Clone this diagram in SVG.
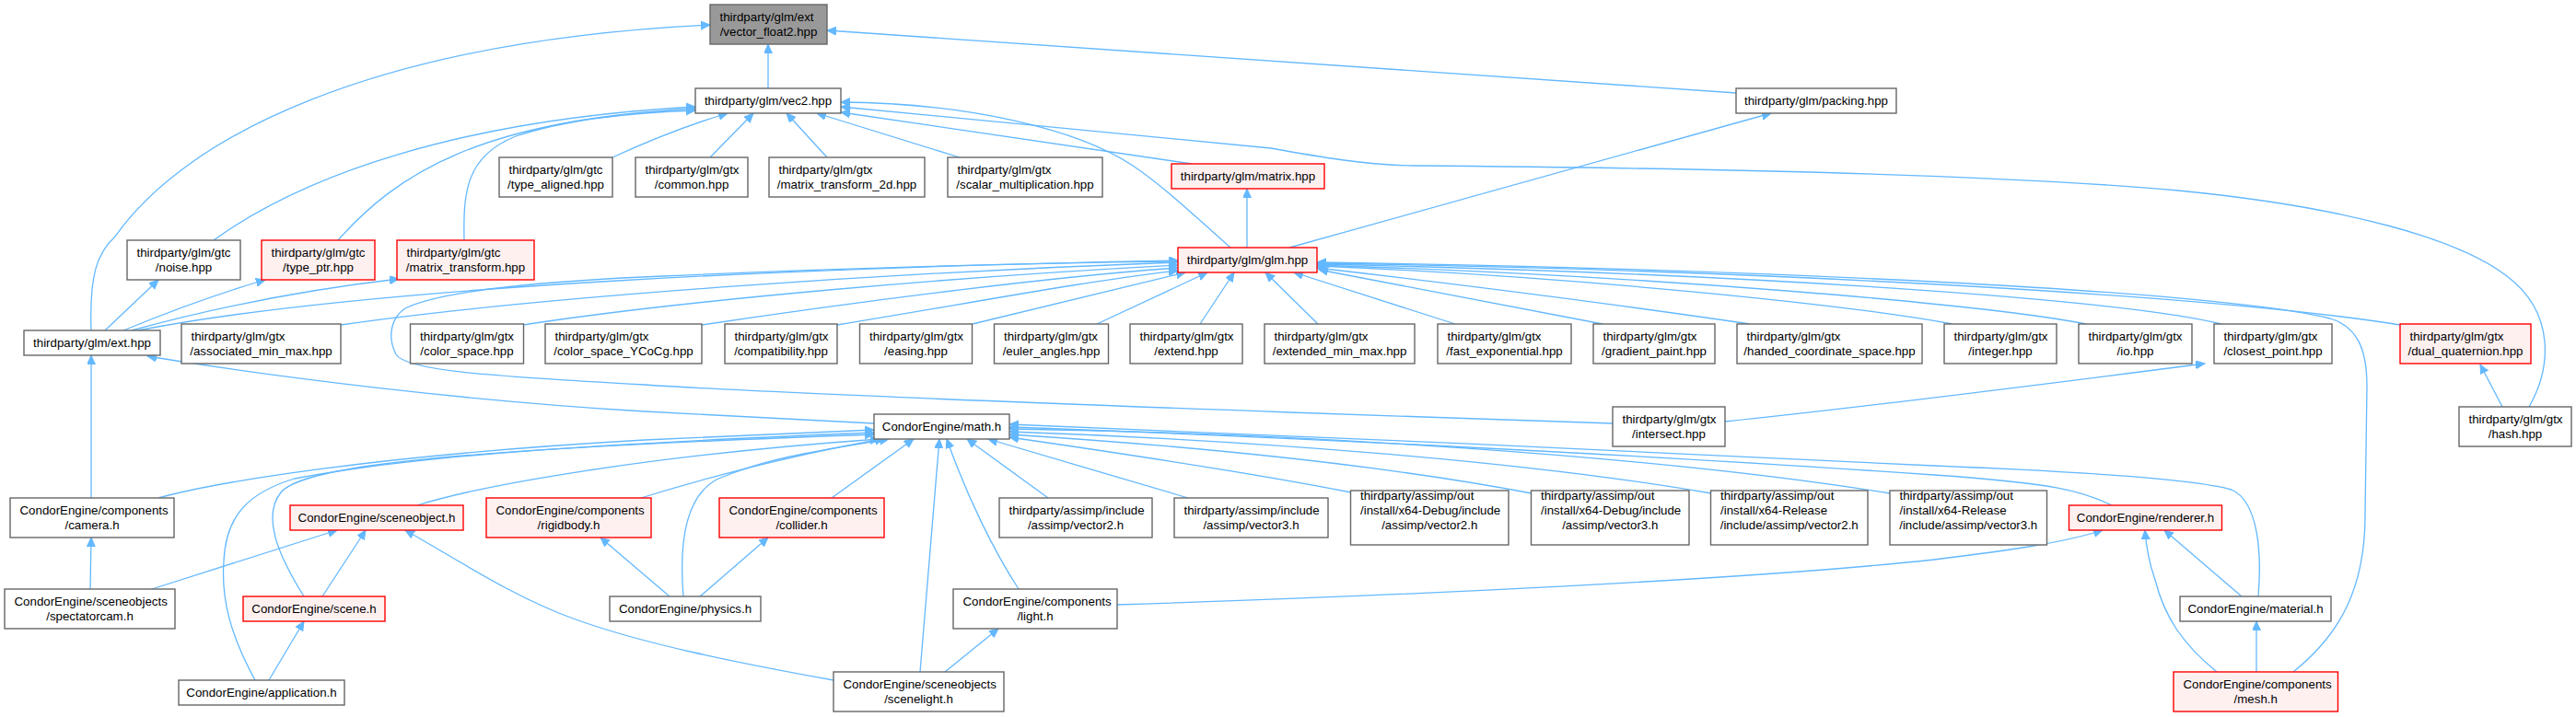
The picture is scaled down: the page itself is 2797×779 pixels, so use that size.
<svg xmlns="http://www.w3.org/2000/svg" width="2797" height="779" viewBox="0 0 2797 779">
<style>
.n rect{fill:#fff;stroke:#666;stroke-width:1.4}
.r rect{fill:#fff0f0;stroke:#f00;stroke-width:1.4}
.root rect{fill:#999;stroke:#666;stroke-width:1.4}
text{font-family:"Liberation Sans",Arial,sans-serif;font-size:13.3px;fill:#000}
.c{text-anchor:middle}
#edges path{fill:none;stroke:#63b8ff;stroke-width:1.3;marker-end:url(#a)}
</style>
<defs>
<marker id="a" markerUnits="userSpaceOnUse" markerWidth="12" markerHeight="10" refX="10" refY="4.5" orient="auto"><path d="M0,0 L10,4.5 L0,9 z" fill="#63b8ff" stroke="#63b8ff" stroke-width="1"/></marker>
</defs>
<rect width="2797" height="779" fill="#fff"/>
<g id="edges">
<path d="M834,96 L834,48"/>
<path d="M99,359 C97,300 105,275 125,257 C200,150 400,45 771,27"/>
<path d="M1885,101 L898,33"/>
<path d="M232,261 C330,190 500,130 755,116"/>
<path d="M367,261 C430,190 520,130 755,118"/>
<path d="M504,261 C503,210 505,170 560,148 C620,128 690,122 755,120"/>
<path d="M665,171 C700,155 750,135 790,123"/>
<path d="M771,171 L818,123"/>
<path d="M898,171 L854,123"/>
<path d="M1042,171 L887,123"/>
<path d="M1294,178 L913,122"/>
<path d="M1336,269 C1290,228 1260,200 1230,180 C1170,140 1050,112 913,111"/>
<path d="M2746,442 C2770,400 2775,340 2722,300 C2670,260 2550,225 2365,207 C2200,192 1900,183 1534,180 C1480,179 1430,170 1380,161 L913,116"/>
<path d="M1354,269 L1354,205"/>
<path d="M1400,269 L1923,123"/>
<path d="M114,359 L172,304"/>
<path d="M134,359 C180,340 240,318 288,304"/>
<path d="M143,359 C230,335 330,315 433,303"/>
<path d="M150,359 C400,310 900,290 1279,283"/>
<path d="M370,353 C600,320 1000,295 1279,285"/>
<path d="M568,353 C750,325 1050,300 1279,288"/>
<path d="M762,353 C950,325 1150,300 1279,291"/>
<path d="M909,353 C1050,330 1180,305 1279,294"/>
<path d="M1751,460 L1400,448 C1100,437 800,425 700,418 C520,408 440,402 430,385 C420,365 425,345 440,335 C480,315 600,305 720,300 C900,292 1100,286 1279,284"/>
<path d="M1056,352 L1287,296"/>
<path d="M1191,352 L1311,296"/>
<path d="M1303,352 L1340,296"/>
<path d="M1431,352 L1374,296"/>
<path d="M1580,352 L1405,296"/>
<path d="M1740,352 L1432,293"/>
<path d="M1900,352 C1750,330 1550,305 1430,291"/>
<path d="M2120,352 C2000,330 1700,300 1430,289"/>
<path d="M2265,352 C2150,330 1800,300 1430,288"/>
<path d="M2412,352 C2300,325 1900,297 1430,287"/>
<path d="M2606,353 C2400,320 1900,293 1430,286"/>
<path d="M2490,730 C2540,690 2568,640 2568,560 L2570,420 C2570,380 2560,355 2530,346 C2400,315 1900,292 1430,285"/>
<path d="M949,460 L700,447 C500,435 300,410 160,387"/>
<path d="M99,541 L99,386"/>
<path d="M172,541 C230,525 400,495 700,478 L949,467"/>
<path d="M277,739 C250,690 240,650 243,610 C245,560 270,535 320,520 C450,495 650,482 949,470"/>
<path d="M330,648 C300,600 285,560 305,535 C330,505 500,488 949,472"/>
<path d="M453,549 C520,528 700,495 955,477"/>
<path d="M696,541 C780,515 880,490 960,477"/>
<path d="M742,648 C738,600 740,540 780,520 C840,495 900,488 965,477"/>
<path d="M903,541 L992,477"/>
<path d="M999,730 L1020,477"/>
<path d="M1106,640 C1080,600 1050,540 1028,477"/>
<path d="M1138,541 L1050,477"/>
<path d="M1290,541 L1073,477"/>
<path d="M1467,535 C1350,512 1200,490 1096,475"/>
<path d="M1663,536 C1500,505 1300,485 1096,472"/>
<path d="M1858,536 C1650,500 1350,478 1096,469"/>
<path d="M2052,536 C1800,495 1400,470 1096,466"/>
<path d="M2293,549 C2260,533 2230,525 2100,516 C1800,495 1400,475 1096,464"/>
<path d="M2452,648 C2456,600 2452,545 2423,532 C2380,520 2250,512 2100,506 C1800,492 1400,472 1096,461"/>
<path d="M1213,657 C1500,648 1900,630 2100,608 C2180,598 2240,590 2283,576"/>
<path d="M2434,648 L2350,576"/>
<path d="M2407,730 C2370,700 2350,670 2340,630 C2333,610 2330,590 2329,576"/>
<path d="M2450,730 L2450,675"/>
<path d="M98,640 L99,584"/>
<path d="M165,640 L366,576"/>
<path d="M350,648 L397,576"/>
<path d="M292,739 L330,675"/>
<path d="M905,739 C800,720 700,700 625,673 C560,650 500,610 440,576"/>
<path d="M727,648 L652,584"/>
<path d="M760,648 L834,584"/>
<path d="M1026,730 L1084,683"/>
<path d="M1873,458 C2000,445 2200,420 2394,395"/>
<path d="M2717,442 L2693,396"/>
</g>
<g id="vector_float2" class="root"><rect x="771" y="5" width="127" height="43"/><text x="781.5" y="23.2">thirdparty/glm/ext</text><text class="c" x="834.5" y="39.2">/vector_float2.hpp</text></g>
<g id="vec2" class="n"><rect x="755" y="96" width="158" height="27"/><text class="c" x="834" y="114.2">thirdparty/glm/vec2.hpp</text></g>
<g id="packing" class="n"><rect x="1885" y="96" width="174" height="27"/><text class="c" x="1972" y="114.2">thirdparty/glm/packing.hpp</text></g>
<g id="type_aligned" class="n"><rect x="542" y="171" width="123" height="43"/><text x="552.5" y="189.2">thirdparty/glm/gtc</text><text class="c" x="603.5" y="205.2">/type_aligned.hpp</text></g>
<g id="common" class="n"><rect x="690" y="171" width="122" height="43"/><text x="700.5" y="189.2">thirdparty/glm/gtx</text><text class="c" x="751" y="205.2">/common.hpp</text></g>
<g id="matrix_transform_2d" class="n"><rect x="835" y="171" width="169" height="43"/><text x="845.5" y="189.2">thirdparty/glm/gtx</text><text class="c" x="919.5" y="205.2">/matrix_transform_2d.hpp</text></g>
<g id="scalar_multiplication" class="n"><rect x="1029" y="171" width="168" height="43"/><text x="1039.5" y="189.2">thirdparty/glm/gtx</text><text class="c" x="1113" y="205.2">/scalar_multiplication.hpp</text></g>
<g id="matrix" class="r"><rect x="1272" y="178" width="166" height="27"/><text class="c" x="1355" y="196.2">thirdparty/glm/matrix.hpp</text></g>
<g id="noise" class="n"><rect x="138" y="261" width="123" height="43"/><text x="148.5" y="279.2">thirdparty/glm/gtc</text><text class="c" x="199.5" y="295.2">/noise.hpp</text></g>
<g id="type_ptr" class="r"><rect x="284" y="261" width="123" height="43"/><text x="294.5" y="279.2">thirdparty/glm/gtc</text><text class="c" x="345.5" y="295.2">/type_ptr.hpp</text></g>
<g id="matrix_transform" class="r"><rect x="431" y="261" width="149" height="43"/><text x="441.5" y="279.2">thirdparty/glm/gtc</text><text class="c" x="505.5" y="295.2">/matrix_transform.hpp</text></g>
<g id="glm" class="r"><rect x="1279" y="269" width="151" height="27"/><text class="c" x="1354.5" y="287.2">thirdparty/glm/glm.hpp</text></g>
<g id="ext" class="n"><rect x="26" y="359" width="148" height="27"/><text class="c" x="100" y="377.2">thirdparty/glm/ext.hpp</text></g>
<g id="associated_min_max" class="n"><rect x="197" y="352" width="173" height="43"/><text x="207.5" y="370.2">thirdparty/glm/gtx</text><text class="c" x="283.5" y="386.2">/associated_min_max.hpp</text></g>
<g id="color_space" class="n"><rect x="445.5" y="352" width="123" height="43"/><text x="456" y="370.2">thirdparty/glm/gtx</text><text class="c" x="507" y="386.2">/color_space.hpp</text></g>
<g id="color_space_YCoCg" class="n"><rect x="592" y="352" width="170" height="43"/><text x="602.5" y="370.2">thirdparty/glm/gtx</text><text class="c" x="677" y="386.2">/color_space_YCoCg.hpp</text></g>
<g id="compatibility" class="n"><rect x="787" y="352" width="122" height="43"/><text x="797.5" y="370.2">thirdparty/glm/gtx</text><text class="c" x="848" y="386.2">/compatibility.hpp</text></g>
<g id="easing" class="n"><rect x="933.5" y="352" width="122" height="43"/><text x="944" y="370.2">thirdparty/glm/gtx</text><text class="c" x="994.5" y="386.2">/easing.hpp</text></g>
<g id="euler_angles" class="n"><rect x="1079.5" y="352" width="124" height="43"/><text x="1090" y="370.2">thirdparty/glm/gtx</text><text class="c" x="1141.5" y="386.2">/euler_angles.hpp</text></g>
<g id="extend" class="n"><rect x="1227" y="352" width="122" height="43"/><text x="1237.5" y="370.2">thirdparty/glm/gtx</text><text class="c" x="1288" y="386.2">/extend.hpp</text></g>
<g id="extended_min_max" class="n"><rect x="1373" y="352" width="163" height="43"/><text x="1383.5" y="370.2">thirdparty/glm/gtx</text><text class="c" x="1454.5" y="386.2">/extended_min_max.hpp</text></g>
<g id="fast_exponential" class="n"><rect x="1561" y="352" width="145" height="43"/><text x="1571.5" y="370.2">thirdparty/glm/gtx</text><text class="c" x="1633.5" y="386.2">/fast_exponential.hpp</text></g>
<g id="gradient_paint" class="n"><rect x="1730" y="352" width="132" height="43"/><text x="1740.5" y="370.2">thirdparty/glm/gtx</text><text class="c" x="1796" y="386.2">/gradient_paint.hpp</text></g>
<g id="handed_coordinate_space" class="n"><rect x="1886" y="352" width="201" height="43"/><text x="1896.5" y="370.2">thirdparty/glm/gtx</text><text class="c" x="1986.5" y="386.2">/handed_coordinate_space.hpp</text></g>
<g id="integer" class="n"><rect x="2111" y="352" width="122" height="43"/><text x="2121.5" y="370.2">thirdparty/glm/gtx</text><text class="c" x="2172" y="386.2">/integer.hpp</text></g>
<g id="io" class="n"><rect x="2257" y="352" width="123" height="43"/><text x="2267.5" y="370.2">thirdparty/glm/gtx</text><text class="c" x="2318.5" y="386.2">/io.hpp</text></g>
<g id="closest_point" class="n"><rect x="2404" y="352" width="128" height="43"/><text x="2414.5" y="370.2">thirdparty/glm/gtx</text><text class="c" x="2468" y="386.2">/closest_point.hpp</text></g>
<g id="dual_quaternion" class="r"><rect x="2606" y="352" width="142" height="43"/><text x="2616.5" y="370.2">thirdparty/glm/gtx</text><text class="c" x="2677" y="386.2">/dual_quaternion.hpp</text></g>
<g id="math" class="n"><rect x="949" y="450" width="147" height="27"/><text class="c" x="1022.5" y="468.2">CondorEngine/math.h</text></g>
<g id="intersect" class="n"><rect x="1751" y="442" width="122" height="43"/><text x="1761.5" y="460.2">thirdparty/glm/gtx</text><text class="c" x="1812" y="476.2">/intersect.hpp</text></g>
<g id="hash" class="n"><rect x="2670" y="442" width="122" height="43"/><text x="2680.5" y="460.2">thirdparty/glm/gtx</text><text class="c" x="2731" y="476.2">/hash.hpp</text></g>
<g id="camera" class="n"><rect x="11" y="541" width="178" height="43"/><text x="21.5" y="559.2">CondorEngine/components</text><text class="c" x="100" y="575.2">/camera.h</text></g>
<g id="sceneobject" class="r"><rect x="315" y="549" width="188" height="27"/><text class="c" x="409" y="567.2">CondorEngine/sceneobject.h</text></g>
<g id="rigidbody" class="r"><rect x="528" y="541" width="179" height="43"/><text x="538.5" y="559.2">CondorEngine/components</text><text class="c" x="617.5" y="575.2">/rigidbody.h</text></g>
<g id="collider" class="r"><rect x="781" y="541" width="179" height="43"/><text x="791.5" y="559.2">CondorEngine/components</text><text class="c" x="870.5" y="575.2">/collider.h</text></g>
<g id="include_vector2" class="n"><rect x="1085" y="541" width="166" height="43"/><text x="1095.5" y="559.2">thirdparty/assimp/include</text><text class="c" x="1168" y="575.2">/assimp/vector2.h</text></g>
<g id="include_vector3" class="n"><rect x="1275" y="541" width="167" height="43"/><text x="1285.5" y="559.2">thirdparty/assimp/include</text><text class="c" x="1358.5" y="575.2">/assimp/vector3.h</text></g>
<g id="debug_vector2" class="n"><rect x="1466.5" y="533" width="171.5" height="59"/><text x="1477" y="543.2">thirdparty/assimp/out</text><text x="1477" y="559.2">/install/x64-Debug/include</text><text class="c" x="1552.25" y="575.2">/assimp/vector2.h</text></g>
<g id="debug_vector3" class="n"><rect x="1662.5" y="533" width="171.5" height="59"/><text x="1673" y="543.2">thirdparty/assimp/out</text><text x="1673" y="559.2">/install/x64-Debug/include</text><text class="c" x="1748.25" y="575.2">/assimp/vector3.h</text></g>
<g id="release_vector2" class="n"><rect x="1857.5" y="533" width="170.5" height="59"/><text x="1868" y="543.2">thirdparty/assimp/out</text><text x="1868" y="559.2">/install/x64-Release</text><text class="c" x="1942.75" y="575.2">/include/assimp/vector2.h</text></g>
<g id="release_vector3" class="n"><rect x="2052" y="533" width="170.5" height="59"/><text x="2062.5" y="543.2">thirdparty/assimp/out</text><text x="2062.5" y="559.2">/install/x64-Release</text><text class="c" x="2137.25" y="575.2">/include/assimp/vector3.h</text></g>
<g id="renderer" class="r"><rect x="2246.5" y="549" width="166" height="27"/><text class="c" x="2329.5" y="567.2">CondorEngine/renderer.h</text></g>
<g id="spectatorcam" class="n"><rect x="5" y="640" width="185" height="43"/><text x="15.5" y="658.2">CondorEngine/sceneobjects</text><text class="c" x="97.5" y="674.2">/spectatorcam.h</text></g>
<g id="scene" class="r"><rect x="264" y="648" width="154" height="27"/><text class="c" x="341" y="666.2">CondorEngine/scene.h</text></g>
<g id="physics" class="n"><rect x="662" y="648" width="164" height="27"/><text class="c" x="744" y="666.2">CondorEngine/physics.h</text></g>
<g id="light" class="n"><rect x="1035" y="640" width="178" height="43"/><text x="1045.5" y="658.2">CondorEngine/components</text><text class="c" x="1124" y="674.2">/light.h</text></g>
<g id="material" class="n"><rect x="2367" y="648" width="164" height="27"/><text class="c" x="2449" y="666.2">CondorEngine/material.h</text></g>
<g id="application" class="n"><rect x="194" y="739" width="180" height="27"/><text class="c" x="284" y="757.2">CondorEngine/application.h</text></g>
<g id="scenelight" class="n"><rect x="905" y="730" width="185" height="43"/><text x="915.5" y="748.2">CondorEngine/sceneobjects</text><text class="c" x="997.5" y="764.2">/scenelight.h</text></g>
<g id="mesh" class="r"><rect x="2360" y="730" width="178.5" height="43"/><text x="2370.5" y="748.2">CondorEngine/components</text><text class="c" x="2449.25" y="764.2">/mesh.h</text></g>
</svg>
